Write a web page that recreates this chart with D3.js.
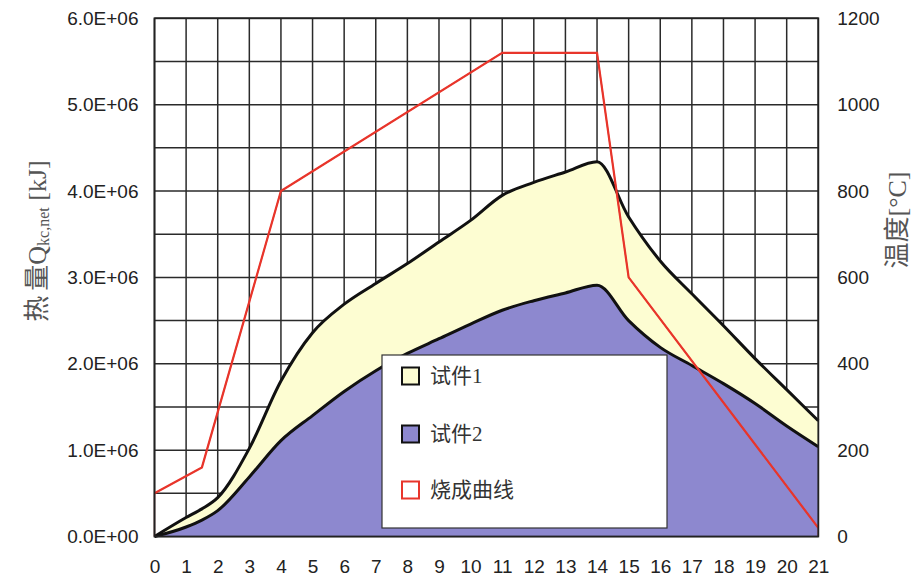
<!DOCTYPE html>
<html>
<head>
<meta charset="utf-8">
<script src="https://cdn.jsdelivr.net/npm/d3@7"></script>
<style>
  html, body { margin: 0; padding: 0; background: #fff; }
  svg { display: block; }
</style>
</head>
<body>
<svg id="chart" width="915" height="579"></svg>
<script>
// Elapsed time (h) sampled for both specimens
const timeHours = [0, 1, 1.5, 2, 3, 4, 5, 6, 7, 8, 9, 10, 11, 12, 13, 14, 15, 16, 17, 18, 19, 20, 21];
// Net heat Q_kc,net (kJ) of specimen 1 and specimen 2
const specimen1 = [0, 0.22e6, 0.32e6, 0.45e6, 1.02e6, 1.80e6, 2.36e6, 2.69e6, 2.93e6, 3.16e6, 3.41e6, 3.66e6, 3.95e6, 4.10e6, 4.22e6, 4.34e6, 3.70e6, 3.19e6, 2.81e6, 2.44e6, 2.06e6, 1.70e6, 1.34e6];
const specimen2 = [0, 0.11e6, 0.19e6, 0.30e6, 0.69e6, 1.11e6, 1.40e6, 1.68e6, 1.92e6, 2.12e6, 2.29e6, 2.46e6, 2.62e6, 2.73e6, 2.82e6, 2.91e6, 2.50e6, 2.19e6, 1.98e6, 1.77e6, 1.54e6, 1.28e6, 1.04e6];
// Firing schedule: time (h) and furnace temperature (°C)
const firingTime = [0, 1.5, 4, 11, 14, 15, 21];
const firingTemp = [100, 160, 800, 1120, 1120, 600, 20];
// Axis ticks
const xTicks = d3.range(0, 22);
const heatTicks = [0, 1e6, 2e6, 3e6, 4e6, 5e6, 6e6];
const heatTickLabels = ["0.0E+00", "1.0E+06", "2.0E+06", "3.0E+06", "4.0E+06", "5.0E+06", "6.0E+06"];
const tempTicks = [0, 200, 400, 600, 800, 1000, 1200];
const legendLabels = ["试件1", "试件2", "烧成曲线"];

const svg = d3.select("#chart");
const L = 154.5, R = 818.3, T = 18.3, B = 536.5;

const x = d3.scaleLinear().domain([0, 21]).range([L, R]);
const y = d3.scaleLinear().domain([0, 6e6]).range([B, T]);
const yT = d3.scaleLinear().domain([0, 1200]).range([B, T]);

const COLORS = { s1: "#fdfdd2", s2: "#8d88cf", firing: "#e8352b", grid: "#2a2a2a" };

// grid
const grid = svg.append("g");
grid.selectAll("line.v").data(xTicks).join("line")
  .attr("x1", d => x(d)).attr("x2", d => x(d)).attr("y1", T).attr("y2", B)
  .attr("stroke", COLORS.grid).attr("stroke-width", 1.5);
grid.selectAll("line.h").data(d3.range(0, 6.01e6, 0.5e6)).join("line")
  .attr("x1", L).attr("x2", R).attr("y1", d => y(d)).attr("y2", d => y(d))
  .attr("stroke", COLORS.grid).attr("stroke-width", 1.5);

// areas
const rows1 = timeHours.map((t, i) => ({ t, v: specimen1[i] }));
const rows2 = timeHours.map((t, i) => ({ t, v: specimen2[i] }));
const area = d3.area().x(d => x(d.t)).y0(B).y1(d => y(d.v)).curve(d3.curveMonotoneX);
const line = d3.line().x(d => x(d.t)).y(d => y(d.v)).curve(d3.curveMonotoneX);

svg.append("path").datum(rows1).attr("d", area).attr("fill", COLORS.s1);
svg.append("path").datum(rows1).attr("d", line).attr("fill", "none")
  .attr("stroke", "#111").attr("stroke-width", 3).attr("stroke-linejoin", "round");
svg.append("path").datum(rows2).attr("d", area).attr("fill", COLORS.s2);
svg.append("path").datum(rows2).attr("d", line).attr("fill", "none")
  .attr("stroke", "#111").attr("stroke-width", 3).attr("stroke-linejoin", "round");

// legend box
const lg = svg.append("g");
lg.append("rect").attr("x", 382).attr("y", 355).attr("width", 285).attr("height", 173)
  .attr("fill", "#fff").attr("stroke", "#333").attr("stroke-width", 1.2);
const legendMarks = [
  { fill: COLORS.s1, stroke: "#111" },
  { fill: COLORS.s2, stroke: "#111" },
  { fill: "#fff", stroke: COLORS.firing }
];
const legendY = [376, 434, 490];
lg.selectAll("rect.mk").data(legendMarks).join("rect")
  .attr("x", 402).attr("y", (d, i) => legendY[i] - 8.5).attr("width", 17).attr("height", 17)
  .attr("fill", d => d.fill).attr("stroke", d => d.stroke).attr("stroke-width", 2);
lg.selectAll("text").data(legendLabels).join("text")
  .attr("x", 430).attr("y", (d, i) => legendY[i])
  .attr("dominant-baseline", "central")
  .attr("font-family", "'Liberation Serif', 'Noto Sans CJK SC', serif")
  .attr("font-size", 21).attr("fill", "#333")
  .text(d => d);

// firing curve (outlined region down to the time axis)
const firingRows = firingTime.map((t, i) => ({ t, v: firingTemp[i] }));
const firingPath = d3.line().x(d => x(d.t)).y(d => yT(d.v));
const closed = [{ t: firingTime[0], v: 0 }, ...firingRows, { t: firingTime[firingTime.length - 1], v: 0 }];
svg.append("path").datum(closed).attr("d", d => firingPath(d) + "Z")
  .attr("fill", "none").attr("stroke", COLORS.firing).attr("stroke-width", 1.2);
svg.append("path").datum(firingRows).attr("d", firingPath)
  .attr("fill", "none").attr("stroke", COLORS.firing).attr("stroke-width", 2.2)
  .attr("stroke-linejoin", "miter");

// frame
svg.append("rect").attr("x", L).attr("y", T).attr("width", R - L).attr("height", B - T)
  .attr("fill", "none").attr("stroke", "#222").attr("stroke-width", 1.8);

// axes
const tickFont = "'Liberation Sans', Arial, sans-serif";
const xAxis = svg.append("g").attr("transform", `translate(0,${B})`)
  .call(d3.axisBottom(x).tickValues(xTicks).tickSize(0).tickPadding(23).tickFormat(d3.format("d")));
const yAxis = svg.append("g").attr("transform", `translate(${L},0)`)
  .call(d3.axisLeft(y).tickValues(heatTicks).tickSize(0).tickPadding(16)
    .tickFormat((d, i) => heatTickLabels[i]));
const yAxisR = svg.append("g").attr("transform", `translate(${R},0)`)
  .call(d3.axisRight(yT).tickValues(tempTicks).tickSize(0).tickPadding(19).tickFormat(d3.format("d")));
[xAxis, yAxis, yAxisR].forEach(g => {
  g.select(".domain").remove();
  g.selectAll("text").attr("font-family", tickFont).attr("font-size", 19).attr("fill", "#222");
});

// axis titles
const titleFont = "'Liberation Serif', 'Noto Sans CJK SC', serif";
const leftTitle = svg.append("text")
  .attr("transform", "translate(37,241) rotate(-90)")
  .attr("text-anchor", "middle").attr("dominant-baseline", "central")
  .attr("font-family", titleFont).attr("font-size", 26).attr("fill", "#555");
leftTitle.append("tspan").text("热");
leftTitle.append("tspan").attr("dx", 5).text("量Q");
leftTitle.append("tspan").attr("font-size", 16).attr("dy", 6).text("kc,net");
leftTitle.append("tspan").attr("dy", -6).text(" [kJ]");

svg.append("text")
  .attr("transform", "translate(897,220) rotate(-90)")
  .attr("text-anchor", "middle").attr("dominant-baseline", "central")
  .attr("font-family", titleFont).attr("font-size", 26).attr("fill", "#555")
  .text("温度[°C]");
</script>
</body>
</html>
